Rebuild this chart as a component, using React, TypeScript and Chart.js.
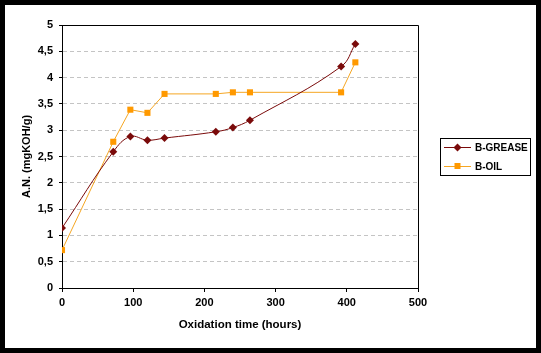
import React, { useEffect, useRef } from "react";
import { Chart, registerables } from "chart.js";

Chart.register(...registerables);

const hours = [0, 72, 96, 120, 144, 216, 240, 264, 392, 412];
const greaseValues = [1.14, 2.59, 2.88, 2.81, 2.85, 2.97, 3.05, 3.19, 4.21, 4.64];
const oilValues = [0.72, 2.78, 3.39, 3.33, 3.69, 3.69, 3.72, 3.72, 3.72, 4.29];
const seriesNames = ["B-GREASE", "B-OIL"];
const xTitle = "Oxidation time (hours)";
const yTitle = "A.N. (mgKOH/g)";

const FONT = "'Liberation Sans', Arial, sans-serif";

const framePlugin = {
  id: "frame",
  afterDraw(chart: any) {
    const { ctx, chartArea } = chart;
    ctx.save();
    ctx.strokeStyle = "#000";
    ctx.lineWidth = 1;
    ctx.beginPath();
    ctx.moveTo(Math.round(chartArea.left) + 0.5, Math.round(chartArea.top) + 0.5);
    ctx.lineTo(Math.round(chartArea.right) + 0.5, Math.round(chartArea.top) + 0.5);
    ctx.lineTo(Math.round(chartArea.right) + 0.5, Math.round(chartArea.bottom) + 0.5);
    ctx.stroke();
    ctx.restore();
  },
};

const legendPlugin = {
  id: "boxLegend",
  afterDraw(chart: any) {
    const { ctx } = chart;
    const bx = 435.5, by = 133.5, bw = 90, bh = 37;
    ctx.save();
    ctx.strokeStyle = "#000";
    ctx.lineWidth = 1;
    ctx.strokeRect(bx, by, bw, bh);
    const rows = [142, 161];
    chart.data.datasets.forEach((ds: any, i: number) => {
      const y = rows[i];
      ctx.strokeStyle = ds.borderColor;
      ctx.lineWidth = 1;
      ctx.beginPath();
      ctx.moveTo(439, y + 0.5);
      ctx.lineTo(466, y + 0.5);
      ctx.stroke();
      ctx.fillStyle = ds.pointBackgroundColor;
      ctx.beginPath();
      if (ds.pointStyle === "rectRot") {
        const r = 4;
        ctx.moveTo(452.5, y + 0.5 - r);
        ctx.lineTo(452.5 + r, y + 0.5);
        ctx.lineTo(452.5, y + 0.5 + r);
        ctx.lineTo(452.5 - r, y + 0.5);
        ctx.closePath();
      } else {
        ctx.rect(449.5, y - 3, 6, 6);
      }
      ctx.fill();
      ctx.fillStyle = "#000";
      ctx.font = `bold 10px ${FONT}`;
      ctx.textBaseline = "middle";
      ctx.textAlign = "left";
      ctx.fillText(ds.label, 470, y + 1);
    });
    ctx.restore();
  },
};

export default function App() {
  const canvasRef = useRef<HTMLCanvasElement | null>(null);

  useEffect(() => {
    document.body.style.margin = "0";
    const canvas = canvasRef.current;
    if (!canvas) return;
    const chart = new Chart(canvas, {
      type: "line",
      data: {
        datasets: [
          {
            label: seriesNames[0],
            data: hours.map((h, i) => ({ x: h, y: greaseValues[i] })),
            borderColor: "#7a0a0a",
            backgroundColor: "#7a0a0a",
            pointBackgroundColor: "#7a0a0a",
            pointBorderColor: "#7a0a0a",
            pointStyle: "rectRot",
            pointRadius: 4,
            pointBorderWidth: 0,
            borderWidth: 1,
            tension: 0.4,
            fill: false,
          },
          {
            label: seriesNames[1],
            data: hours.map((h, i) => ({ x: h, y: oilValues[i] })),
            borderColor: "#f5a623",
            backgroundColor: "#ff9900",
            pointBackgroundColor: "#ff9900",
            pointBorderColor: "#ff9900",
            pointStyle: "rect",
            pointRadius: 4.3,
            pointBorderWidth: 0,
            borderWidth: 1,
            tension: 0,
            fill: false,
          },
        ],
      },
      options: {
        animation: false,
        responsive: false,
        maintainAspectRatio: false,
        layout: { padding: { left: 0, top: 20, right: 118, bottom: 0 } },
        plugins: {
          legend: { display: false },
          tooltip: { enabled: false },
        },
        scales: {
          x: {
            type: "linear",
            min: 0,
            max: 500,
            afterFit: (s: any) => {
              s.height = 60;
            },
            ticks: {
              stepSize: 100,
              color: "#000",
              font: { family: FONT, size: 11, weight: "bold" },
              padding: 4,
              maxRotation: 0,
            },
            grid: {
              display: true,
              drawOnChartArea: false,
              drawTicks: true,
              tickLength: 4,
              tickColor: "#000",
              color: "#000",
            },
            border: { display: true, color: "#000", width: 1 },
            title: {
              display: true,
              text: xTitle,
              color: "#000",
              font: { family: FONT, size: 11.5, weight: "bold" },
              padding: { top: 0, bottom: 16 },
            },
          },
          y: {
            type: "linear",
            min: 0,
            max: 5,
            afterFit: (s: any) => {
              s.width = 57;
            },
            ticks: {
              stepSize: 0.5,
              color: "#000",
              font: { family: FONT, size: 11, weight: "bold" },
              padding: 6,
              callback: (v: any) => String(v).replace(".", ","),
            },
            grid: {
              display: true,
              drawOnChartArea: true,
              drawTicks: true,
              tickLength: 3,
              tickColor: "#000",
              color: "#c4c4c4",
            },
            border: { display: true, color: "#000", width: 1, dash: [4, 3] },
            title: {
              display: true,
              text: yTitle,
              color: "#000",
              font: { family: FONT, size: 11, weight: "bold" },
              padding: { top: 15, bottom: 0 },
            },
          },
        },
      },
      plugins: [framePlugin, legendPlugin],
    });
    return () => chart.destroy();
  }, []);

  return (
    <div
      style={{
        width: 541,
        height: 353,
        background: "#000",
        position: "relative",
        overflow: "hidden",
      }}
    >
      <div
        style={{
          position: "absolute",
          left: 5,
          top: 5,
          width: 531,
          height: 343,
          background: "#fff",
        }}
      >
        <canvas ref={canvasRef} width={531} height={343} style={{ display: "block" }} />
      </div>
    </div>
  );
}
